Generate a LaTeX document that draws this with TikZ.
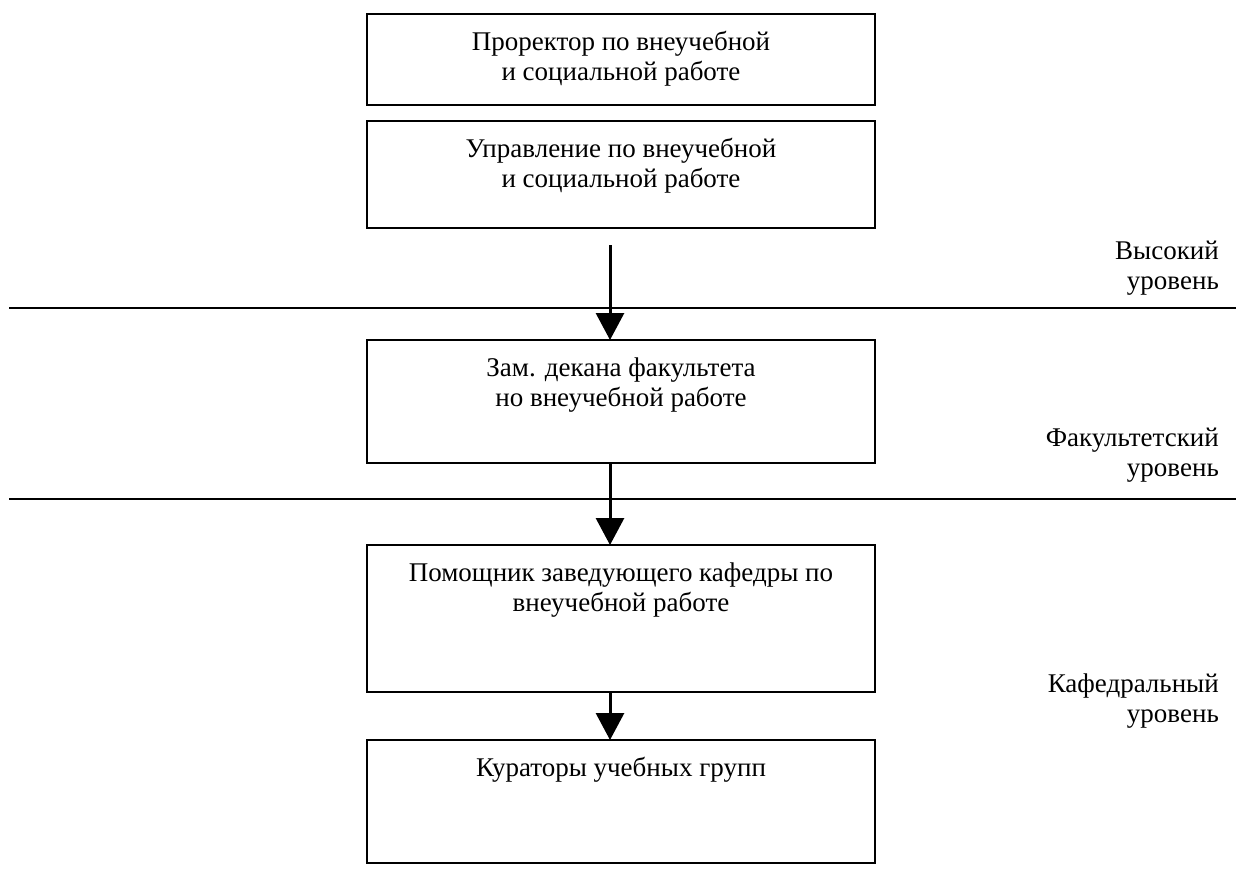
\documentclass[tikz,border=0pt]{standalone}
\usepackage{fontspec}
\setmainfont{Liberation Serif}
\usetikzlibrary{arrows.meta}
\tikzset{
  box/.style={draw, line width=2.5pt, minimum width=508pt, inner sep=0pt, outer sep=0pt},
  txt/.style={font=\fontsize{27}{30}\selectfont, align=center, inner sep=0pt, anchor=base},
  lvl/.style={font=\fontsize{27}{30}\selectfont, align=right, inner sep=0pt, anchor=base east},
  arr/.style={line width=3pt, -{Triangle[length=27pt,width=28pt]}},
  sep/.style={line width=2pt}
}
\begin{document}
\begin{tikzpicture}[x=1pt,y=-1pt]
\useasboundingbox (0,0) rectangle (1245,884);
% boxes
\node[box, minimum height=91pt]  (b1) at (621,59.5) {};
\node[box, minimum height=107pt] (b2) at (621,174.5) {};
\node[box, minimum height=123pt] (b3) at (621,401.5) {};
\node[box, minimum height=147pt] (b4) at (621,618.5) {};
\node[box, minimum height=123pt] (b5) at (621,801.5) {};
% box texts (base = last line baseline)
\node[txt] (t1) at (621,80) {Проректор по внеучебной\\и социальной работе};
\node[txt] (t2) at (621,187) {Управление по внеучебной\\и социальной работе};
\node[txt] (t3) at (621,406) {Зам. декана факультета\\но внеучебной работе};
\node[txt] (t4) at (621,611) {Помощник заведующего кафедры по\\внеучебной работе};
\node[txt] (t5) at (621,776) {Кураторы учебных групп};
% level labels
\node[lvl] (l1) at (1219,289) {Высокий\\уровень};
\node[lvl] (l2) at (1219,476) {Факультетский\\уровень};
\node[lvl] (l3) at (1219,722) {Кафедральный\\уровень};
% separators
\coordinate (s1a) at (9,308);
\coordinate (s1b) at (1236,308);
\coordinate (s2a) at (9,499);
\coordinate (s2b) at (1236,499);
\draw[sep] (s1a) -- (s1b);
\draw[sep] (s2a) -- (s2b);
% arrows
\draw[arr] ([xshift=-11pt,yshift=-17pt]b2.south) -- ([xshift=-11pt]b3.north);
\draw[arr] ([xshift=-11pt]b3.south) -- ([xshift=-11pt]b4.north);
\draw[arr] ([xshift=-11pt]b4.south) -- ([xshift=-11pt]b5.north);
\end{tikzpicture}
\end{document}
